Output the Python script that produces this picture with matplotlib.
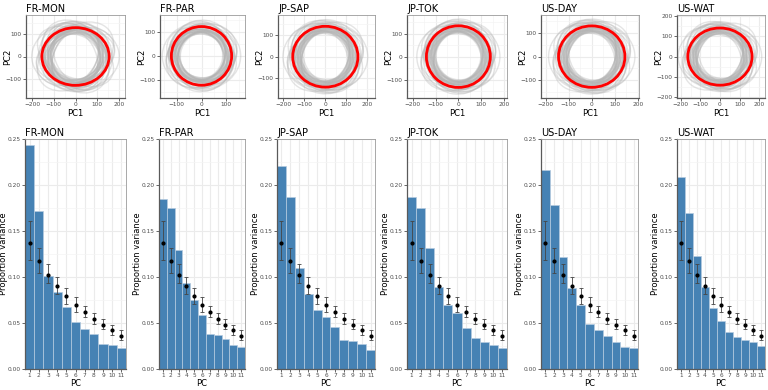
import numpy as np
import matplotlib
matplotlib.use("Agg")
import matplotlib.pyplot as plt
from matplotlib.patches import Ellipse

# sites
sites = ["FR-MON", "FR-PAR", "JP-SAP", "JP-TOK", "US-DAY", "US-WAT"]

# red ellipse semi-axes (PC1, PC2)
red_rx = [155, 122, 155, 140, 144, 164]
red_ry = [128, 122, 140, 134, 130, 141]

# grey ellipses: relative scale and tilt
gray_sx = [0.72, 0.78, 0.85, 0.90, 0.95, 1.05, 1.12, 1.20, 1.30, 0.80, 0.88, 0.75,
           1.00, 0.92, 1.15, 0.83, 0.70, 1.25, 0.98, 0.86, 1.08, 0.77, 0.94, 1.18,
           0.82, 0.74, 0.96, 1.10, 0.88, 0.79, 0.91, 1.02, 0.84, 0.76, 1.22, 0.87,
           0.93, 0.81, 1.06, 0.73]
gray_sy = [0.80, 0.74, 0.95, 0.82, 1.10, 0.90, 1.00, 0.95, 1.15, 0.98, 0.76, 0.88,
           1.20, 0.85, 1.05, 0.92, 0.78, 1.00, 0.80, 1.10, 0.84, 0.90, 1.02, 0.87,
           0.72, 0.86, 0.79, 1.22, 0.93, 0.83, 0.77, 0.96, 1.08, 0.81, 0.89, 0.75,
           1.12, 0.94, 0.86, 0.91]
gray_angle = [10, -25, 40, 5, -15, 30, -40, 20, 0, -5, 60, -30, 15, 45, -50, 25,
              -10, 35, -20, 70, 0, 50, -35, 12, -60, 80, 22, -8, 33, -45, 65, -70,
              8, 18, -28, 55, -12, 38, -55, 28]

# proportion variance per PC
pcs = list(range(1, 12))
var_fr_mon = [0.243, 0.172, 0.101, 0.084, 0.067, 0.051, 0.043, 0.038, 0.027, 0.026, 0.023]
var_fr_par = [0.185, 0.175, 0.129, 0.094, 0.075, 0.059, 0.038, 0.037, 0.033, 0.026, 0.024]
var_jp_sap = [0.221, 0.187, 0.110, 0.081, 0.064, 0.056, 0.046, 0.031, 0.030, 0.027, 0.021]
var_jp_tok = [0.187, 0.175, 0.131, 0.089, 0.070, 0.061, 0.045, 0.034, 0.029, 0.026, 0.023]
var_us_day = [0.216, 0.178, 0.122, 0.088, 0.070, 0.049, 0.042, 0.036, 0.029, 0.024, 0.023]
var_us_wat = [0.209, 0.170, 0.123, 0.089, 0.066, 0.052, 0.040, 0.035, 0.031, 0.029, 0.025]
variances = [var_fr_mon, var_fr_par, var_jp_sap, var_jp_tok, var_us_day, var_us_wat]

# null expectation (point + interval)
null_mean = [0.137, 0.117, 0.102, 0.090, 0.079, 0.070, 0.062, 0.054, 0.048, 0.042, 0.036]
null_lo = [0.119, 0.104, 0.094, 0.081, 0.071, 0.062, 0.056, 0.049, 0.043, 0.037, 0.032]
null_hi = [0.161, 0.132, 0.114, 0.100, 0.088, 0.078, 0.069, 0.061, 0.054, 0.048, 0.042]

# layout in pixels: (left, right) per column
W, H = 768, 390
top_x = [(26, 125), (160, 245), (278, 375), (407, 507), (541, 639), (677, 765)]
top_y = (15, 98)
bot_x = [(25, 126), (159, 245), (277, 375), (407, 507), (541, 638), (677, 765)]
bot_y = (139, 369)
top_xlim = [(-228, 228), (-168, 176), (-225, 236), (-225, 213), (-220, 205), (-219, 230)]
top_ylim = [(-184, 184), (-175, 170), (-190, 192), (-180, 181), (-175, 176), (-204, 205)]

tick_col = "#4d4d4d"
grid_col = "#ebebeb"


def px_axes(fig, xr, yr):
    return fig.add_axes([xr[0] / W, 1 - yr[1] / H, (xr[1] - xr[0]) / W, (yr[1] - yr[0]) / H])


def style(ax):
    ax.set_facecolor("white")
    for s in ["top", "right"]:
        ax.spines[s].set_color("#9a9a9a")
        ax.spines[s].set_linewidth(0.6)
    for s in ["left", "bottom"]:
        ax.spines[s].set_color("#5a5a5a")
        ax.spines[s].set_linewidth(0.9)
    ax.tick_params(labelsize=4.2, colors=tick_col, length=2, width=0.6, pad=1.2)
    ax.set_axisbelow(True)


fig = plt.figure(figsize=(W / 100, H / 100), dpi=100)

for i, site in enumerate(sites):
    # top: ellipses
    ax = px_axes(fig, top_x[i], top_y)
    style(ax)
    xt = [-100, 0, 100] if i == 1 else [-200, -100, 0, 100, 200]
    yt = [-200, -100, 0, 100, 200] if i == 5 else [-100, 0, 100]
    ax.set_xticks(xt)
    ax.set_yticks(yt)
    ax.set_xticks(np.arange(-250, 251, 50), minor=True)
    ax.set_yticks(np.arange(-250, 251, 50), minor=True)
    ax.tick_params(which="minor", length=0)
    ax.grid(True, which="major", color=grid_col, lw=0.8)
    ax.grid(True, which="minor", color="#f4f4f4", lw=0.5)
    for sx, sy, ang in zip(gray_sx, gray_sy, gray_angle):
        ax.add_patch(Ellipse((0, 0), 2 * red_rx[i] * sx, 2 * red_ry[i] * sy, angle=ang,
                             fill=False, ec="#b4b4b4", lw=1.0, alpha=0.35))
    ax.add_patch(Ellipse((0, 0), 2 * red_rx[i], 2 * red_ry[i], fill=False, ec="red", lw=2.0))
    ax.set_xlim(top_xlim[i])
    ax.set_ylim(top_ylim[i])
    w = top_x[i][1] - top_x[i][0]
    ax.set_xlabel("PC1", fontsize=6)
    ax.xaxis.set_label_coords(0.5, -11 / 83)
    ax.set_ylabel("PC2", fontsize=6)
    ax.yaxis.set_label_coords(-14 / w, 0.5)
    ax.set_title(site, fontsize=7, loc="left", pad=2.5)

    # bottom: variance bars
    ax = px_axes(fig, bot_x[i], bot_y)
    style(ax)
    ax.set_yticks([0.0, 0.05, 0.10, 0.15, 0.20, 0.25])
    ax.set_yticklabels(["0.00", "0.05", "0.10", "0.15", "0.20", "0.25"])
    ax.set_yticks(np.arange(0.025, 0.25, 0.05), minor=True)
    ax.tick_params(which="minor", length=0)
    ax.set_xticks(pcs)
    ax.grid(True, which="major", color=grid_col, lw=0.8)
    ax.grid(True, which="minor", axis="y", color="#f4f4f4", lw=0.5)
    ax.bar(pcs, variances[i], width=1.0, color="#4682b4", edgecolor="#b5cbe0", lw=0.5)
    yerr = [np.array(null_mean) - np.array(null_lo), np.array(null_hi) - np.array(null_mean)]
    ax.errorbar(pcs, null_mean, yerr=yerr, fmt="o", ms=2, color="black",
                ecolor="#444444", elinewidth=0.6, capsize=1.5, capthick=0.6)
    ax.set_xlim(0.5, 11.5)
    ax.set_ylim(0, 0.25)
    w = bot_x[i][1] - bot_x[i][0]
    ax.set_xlabel("PC", fontsize=6)
    ax.xaxis.set_label_coords(0.5, -10 / 230)
    ax.set_ylabel("Proportion variance", fontsize=6)
    ax.yaxis.set_label_coords(-17 / w, 0.5)
    ax.set_title(site, fontsize=7, loc="left", pad=2.5)

fig.savefig("out.png", dpi=100)
